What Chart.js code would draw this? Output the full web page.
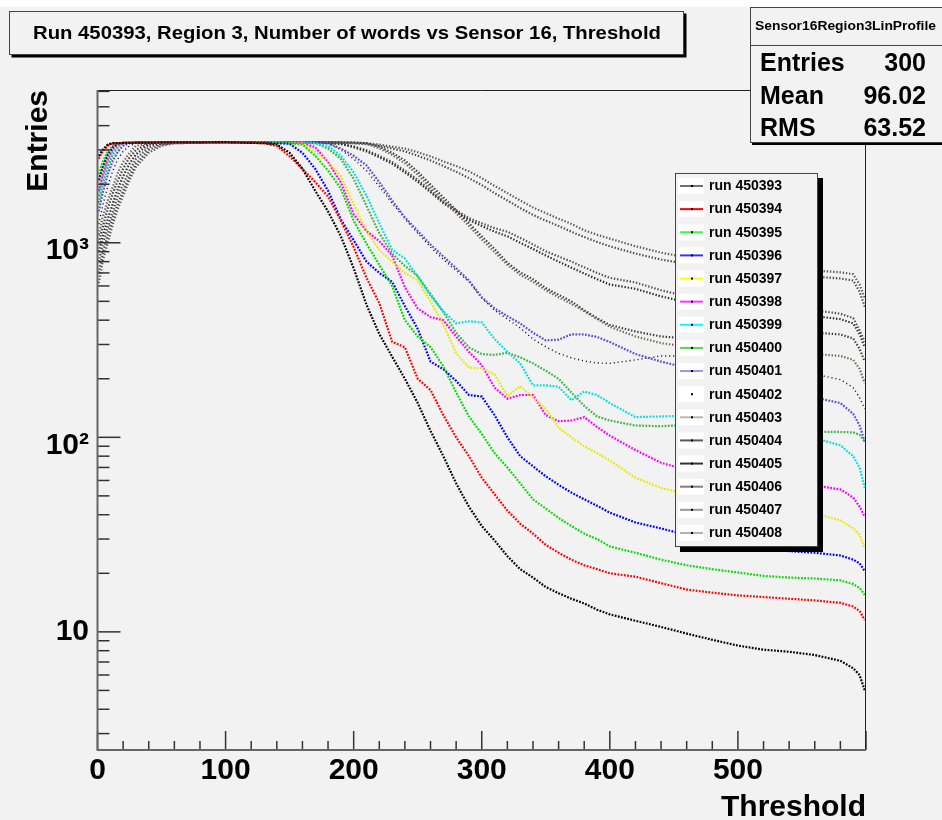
<!DOCTYPE html>
<html>
<head>
<meta charset="utf-8">
<script src="https://cdn.jsdelivr.net/npm/chart.js@4.4.1/dist/chart.umd.min.js"></script>
<style>
  html, body { margin: 0; padding: 0; background: #f2f2f2; }
  canvas { display: block; }
</style>
</head>
<body>
<canvas id="chart" width="942" height="820"></canvas>
<script>
// ---- data ----
const titleText = 'Run 450393, Region 3, Number of words vs Sensor 16, Threshold'
const xTitle = 'Threshold'
const yTitle = 'Entries'
const statsName = 'Sensor16Region3LinProfile'
const statsLabels = ['Entries', 'Mean', 'RMS']
const statsValues = ['300', '96.02', '63.52']

const xTicks = [0, 100, 200, 300, 400, 500]

const runNames = ['run 450393', 'run 450394', 'run 450395', 'run 450396', 'run 450397', 'run 450398',
  'run 450399', 'run 450400', 'run 450401', 'run 450402', 'run 450403', 'run 450404',
  'run 450405', 'run 450406', 'run 450407', 'run 450408']

const thresholds = [1, 4, 8, 12, 16, 20, 25, 30, 40, 50, 60, 100, 130, 140, 150, 160, 170, 180, 190, 200,
  210, 220, 230, 240, 250, 260, 270, 280, 290, 300, 310, 320, 330, 340, 350, 360, 370, 380, 390, 400,
  420, 440, 460, 480, 500, 520, 540, 560, 580, 590, 595, 599]

const run450393 = [2800, 3000, 3200, 3250, 3250, 3260, 3260, 3270, 3270, 3280, 3280, 3290, 3250, 3200, 2900, 2400, 1850, 1450, 1080, 740, 480, 340, 260, 200, 150, 108, 80, 58, 44, 35, 29.5, 24.5, 21, 19, 17, 15.8, 14.8, 14, 13, 12.3, 11.4, 10.6, 9.8, 9.1, 8.5, 8.1, 7.9, 7.6, 7.1, 6.5, 6.0, 5.0]
const run450394 = [2700, 2950, 3150, 3250, 3250, 3260, 3260, 3270, 3270, 3280, 3280, 3290, 3250, 3150, 2780, 2400, 2050, 1730, 1300, 950, 660, 490, 310, 290, 200, 175, 130, 100, 80, 62, 51, 42, 36, 32, 28, 25.5, 23.5, 22, 21, 20, 19.2, 17.8, 16.5, 15.9, 15.4, 15.1, 14.8, 14.5, 14.1, 13.5, 12.8, 11.5]
const run450395 = [2250, 2600, 2950, 3150, 3250, 3260, 3260, 3270, 3270, 3280, 3280, 3290, 3290, 3280, 3250, 3200, 2800, 2350, 1900, 1300, 990, 770, 600, 400, 330, 291, 232, 170, 128, 104, 83, 70, 58, 48, 43, 38.5, 35, 32, 30, 27.5, 25.5, 23.5, 22, 21, 20.2, 19.4, 19.0, 18.8, 18.4, 17.6, 16.8, 15.5]
const run450396 = [2100, 2450, 2850, 3100, 3250, 3260, 3260, 3270, 3270, 3280, 3280, 3290, 3280, 3250, 3230, 2900, 2400, 1850, 1320, 1030, 800, 700, 630, 473, 361, 245, 224, 195, 165, 162, 130, 100, 80, 71, 63, 57, 52, 48, 44.5, 41, 36.5, 34, 31.5, 29.5, 28, 26.8, 26, 25.5, 24.7, 23.5, 22.5, 20.5]
const run450397 = [2050, 2400, 2800, 3100, 3250, 3260, 3260, 3270, 3270, 3280, 3280, 3290, 3290, 3280, 3250, 3240, 2950, 2600, 2200, 1580, 1150, 920, 800, 700, 640, 500, 380, 270, 228, 226, 210, 163, 183, 160, 140, 112, 100, 90, 83, 76, 62, 55, 51, 48.5, 46.5, 44, 42, 40.5, 37.5, 34, 31.5, 27]
const run450398 = [1850, 2250, 2700, 3050, 3200, 3250, 3260, 3270, 3270, 3280, 3280, 3290, 3290, 3290, 3280, 3250, 3100, 2600, 2040, 1400, 1150, 1020, 860, 590, 460, 415, 400, 330, 275, 235, 180, 158, 165, 165, 130, 121, 122, 127, 113, 102, 86, 74, 68, 64, 61, 59, 57.5, 56.5, 54, 49, 44, 39]
const run450399 = [1750, 2150, 2600, 2950, 3150, 3250, 3260, 3270, 3270, 3280, 3280, 3290, 3290, 3290, 3290, 3280, 3250, 3150, 2800, 2300, 1750, 1260, 920, 830, 670, 533, 445, 385, 395, 390, 320, 275, 240, 185, 185, 182, 155, 172, 165, 150, 127, 128, 129, 123, 116, 110, 104, 99, 91, 80, 70, 55]
const run450400 = [1600, 2000, 2450, 2850, 3100, 3250, 3260, 3270, 3270, 3280, 3280, 3290, 3290, 3290, 3290, 3280, 3250, 3050, 2700, 2130, 1550, 1120, 880, 760, 676, 546, 440, 345, 290, 268, 265, 272, 258, 240, 220, 200, 170, 145, 128, 122, 115, 114, 116, 113, 110, 109, 108, 107, 106.5, 106, 103, 95]
const run450401 = [1450, 1800, 2250, 2650, 2950, 3150, 3250, 3270, 3270, 3280, 3280, 3290, 3290, 3290, 3290, 3290, 3280, 3250, 3050, 2800, 2500, 2050, 1650, 1350, 1150, 980, 850, 740, 640, 525, 460, 420, 385, 345, 315, 318, 338, 338, 328, 309, 268, 245, 228, 212, 198, 185, 172, 160, 150, 132, 115, 95]
const run450402 = [1250, 1550, 1950, 2350, 2700, 2950, 3150, 3250, 3270, 3280, 3280, 3290, 3290, 3290, 3290, 3290, 3280, 3250, 3000, 2700, 2350, 1950, 1600, 1330, 1120, 950, 820, 720, 630, 520, 450, 405, 365, 320, 292, 270, 256, 247, 241, 240, 250, 262, 262, 255, 245, 233, 222, 211, 198, 180, 160, 140]
const run450403 = [1100, 1350, 1650, 1950, 2300, 2600, 2900, 3150, 3250, 3270, 3280, 3290, 3290, 3290, 3290, 3290, 3290, 3290, 3280, 3260, 3220, 3060, 2830, 2560, 2240, 1920, 1650, 1420, 1220, 1040, 895, 770, 685, 630, 570, 525, 485, 445, 405, 370, 330, 305, 292, 285, 280, 276, 272, 268, 262, 250, 225, 190]
const run450404 = [1000, 1200, 1500, 1800, 2100, 2400, 2750, 3000, 3250, 3270, 3280, 3290, 3290, 3290, 3290, 3290, 3290, 3290, 3280, 3270, 3250, 3120, 2900, 2650, 2320, 1990, 1710, 1470, 1260, 1080, 930, 790, 705, 650, 585, 540, 500, 450, 410, 378, 350, 330, 322, 325, 330, 336, 342, 345, 338, 322, 285, 245]
const run450405 = [900, 1080, 1320, 1600, 1900, 2200, 2550, 2850, 3200, 3250, 3270, 3290, 3290, 3290, 3290, 3290, 3280, 3260, 3220, 3100, 2950, 2750, 2550, 2300, 2060, 1820, 1600, 1440, 1310, 1220, 1140, 1080, 1000, 930, 860, 800, 745, 695, 650, 610, 580, 530, 495, 470, 455, 442, 430, 420, 405, 385, 340, 290]
const run450406 = [800, 980, 1200, 1450, 1750, 2000, 2350, 2700, 3100, 3250, 3270, 3290, 3290, 3290, 3290, 3290, 3280, 3260, 3230, 3130, 2990, 2800, 2600, 2350, 2110, 1860, 1625, 1470, 1340, 1260, 1190, 1140, 1060, 980, 905, 850, 800, 748, 700, 660, 625, 570, 530, 505, 490, 475, 462, 450, 432, 410, 355, 310]
const run450407 = [700, 880, 1100, 1350, 1600, 1850, 2200, 2550, 3000, 3200, 3250, 3290, 3290, 3290, 3290, 3290, 3290, 3280, 3270, 3250, 3220, 3150, 3050, 2950, 2800, 2650, 2480, 2320, 2150, 1980, 1800, 1650, 1510, 1390, 1300, 1220, 1140, 1070, 1010, 960, 880, 820, 780, 745, 720, 700, 685, 670, 655, 640, 560, 470]
const run450408 = [620, 800, 1000, 1250, 1500, 1750, 2100, 2450, 2900, 3150, 3250, 3290, 3290, 3290, 3290, 3290, 3290, 3290, 3285, 3280, 3250, 3200, 3120, 3050, 2920, 2780, 2620, 2480, 2330, 2150, 1960, 1800, 1650, 1520, 1420, 1330, 1250, 1160, 1100, 1050, 960, 890, 840, 800, 775, 755, 735, 720, 705, 690, 610, 520]

const series = [run450393, run450394, run450395, run450396, run450397, run450398, run450399, run450400,
  run450401, run450402, run450403, run450404, run450405, run450406, run450407, run450408]

// ---- styles ----
const markerColors = ['#000000', '#ff0000', '#00dd00', '#0000ff', '#e8e800', '#ff00ff', '#00e0e0', '#3fb54a',
  '#5954d8', '#000000', '#6e6860', '#3c3c3c', '#2a2a2a', '#505050', '#4a4a4a', '#5a5a5a']
const legendColors = ['#707070', '#ff0000', '#33ff33', '#3333ff', '#ffff00', '#ff33ff', '#00ffff', '#59d454',
  '#9a98e8', '#ffffff', '#c0b6ac', '#5a5a5a', '#333333', '#7f7f7f', '#999999', '#b2b2b2']
const bg = '#f2f2f2'
const fontFamily = "'Liberation Sans', Arial, Helvetica, sans-serif"

Chart.defaults.font.family = fontFamily

function line(ctx, x1, y1, x2, y2) {
  ctx.beginPath()
  ctx.moveTo(x1, y1)
  ctx.lineTo(x2, y2)
  ctx.stroke()
}

function fitText(ctx, text, cx, cy, width, font) {
  ctx.font = font
  const w = ctx.measureText(text).width
  ctx.save()
  ctx.translate(cx, cy)
  ctx.scale(width / w, 1)
  ctx.textAlign = 'center'
  ctx.textBaseline = 'middle'
  ctx.fillText(text, 0, 0)
  ctx.restore()
}

function shadowBox(ctx, x, y, w, h, s) {
  ctx.fillStyle = '#000'
  ctx.fillRect(x + s, y + s, w, h)
  ctx.fillStyle = bg
  ctx.fillRect(x, y, w, h)
  ctx.strokeStyle = '#444'
  ctx.lineWidth = 1
  ctx.strokeRect(x + 0.5, y + 0.5, w - 1, h - 1)
}

const rootStyle = {
  id: 'rootStyle',
  beforeDraw(chart) {
    const ctx = chart.ctx
    ctx.save()
    ctx.fillStyle = bg
    ctx.fillRect(0, 0, chart.width, chart.height)
    ctx.fillStyle = '#ffffff'
    ctx.fillRect(0, 0, chart.width, 7)
    ctx.restore()
  },
  afterDatasetsDraw(chart) {
    const ctx = chart.ctx
    const a = chart.chartArea
    const xs = chart.scales.x
    const ys = chart.scales.y
    ctx.save()
    // inward ticks, ROOT style
    ctx.strokeStyle = '#333'
    ctx.lineWidth = 1.5
    for (let v = 0; v <= 600; v += 20) {
      const px = xs.getPixelForValue(v)
      line(ctx, px, a.bottom, px, a.bottom - (v % 100 === 0 ? 19 : 9))
    }
    for (const d of [1, 10, 100, 1000]) {
      for (let m = 1; m <= 9; m++) {
        const v = m * d
        if (v < ys.min || v > ys.max) continue
        const py = ys.getPixelForValue(v)
        line(ctx, a.left, py, a.left + (m === 1 ? 23 : 12), py)
      }
    }
    // frame
    ctx.strokeStyle = '#222'
    ctx.lineWidth = 1
    line(ctx, a.left, a.top + 0.5, a.right, a.top + 0.5)
    line(ctx, a.right - 0.5, a.top, a.right - 0.5, a.bottom)
    ctx.strokeStyle = '#666'
    ctx.lineWidth = 2
    line(ctx, a.left, a.top, a.left, a.bottom + 1)
    line(ctx, a.left, a.bottom, a.right, a.bottom)
    ctx.restore()
  },
  afterDraw(chart) {
    const ctx = chart.ctx
    ctx.save()
    ctx.fillStyle = '#000'

    // title box
    shadowBox(ctx, 9, 11, 675, 44, 2.5)
    ctx.fillStyle = '#000'
    fitText(ctx, titleText, 347, 33.5, 628, 'bold 19px ' + fontFamily)

    // stats box
    shadowBox(ctx, 750, 7, 200, 136, 2)
    ctx.strokeStyle = '#444'
    ctx.lineWidth = 1
    line(ctx, 750, 45.5, 942, 45.5)
    ctx.fillStyle = '#000'
    fitText(ctx, statsName, 845.5, 27, 181, 'bold 12px ' + fontFamily)
    ctx.font = 'bold 25px ' + fontFamily
    ctx.textBaseline = 'middle'
    statsLabels.forEach((lab, i) => {
      const y = 64.5 + i * 32.5
      ctx.textAlign = 'left'
      ctx.fillText(lab, 760, y)
      ctx.textAlign = 'right'
      ctx.fillText(statsValues[i], 926, y)
    })

    // legend
    shadowBox(ctx, 675, 173, 143, 374, 5)
    ctx.font = 'bold 14px ' + fontFamily
    ctx.textAlign = 'left'
    ctx.textBaseline = 'middle'
    chart.data.datasets.forEach((ds, i) => {
      const cy = 186 + i * 23.13
      ctx.fillStyle = '#ffffff'
      ctx.fillRect(678, cy - 8, 26, 16)
      ctx.strokeStyle = legendColors[i]
      ctx.lineWidth = 2
      line(ctx, 680, cy, 703, cy)
      ctx.fillStyle = '#000'
      ctx.fillRect(691, cy - 1, 2, 2)
      ctx.fillText(ds.label, 709, cy + 0.5)
    })
    ctx.restore()
  }
}

const datasets = runNames.map((name, i) => ({
  label: name,
  data: thresholds.map((x, j) => ({ x: x, y: series[i][j] })),
  borderColor: markerColors[i],
  borderWidth: i === 9 ? 1.4 : 2.2,
  borderDash: i === 9 ? [1, 3] : (i >= 10 ? [1.4, 1.8] : [1.8, 1.4]),
  pointRadius: 0,
  fill: false,
  tension: 0
}))

new Chart(document.getElementById('chart'), {
  type: 'line',
  data: { datasets: datasets },
  options: {
    responsive: false,
    animation: false,
    devicePixelRatio: 1,
    events: [],
    layout: { padding: { left: 0, top: 90, right: 76, bottom: 0 } },
    plugins: {
      legend: { display: false },
      tooltip: { enabled: false },
      title: { display: false }
    },
    scales: {
      x: {
        type: 'linear',
        min: 0,
        max: 600,
        grid: { display: false, drawTicks: false },
        border: { display: false },
        ticks: {
          stepSize: 100,
          autoSkip: false,
          maxRotation: 0,
          padding: 2.5,
          color: '#000',
          font: { size: 30, weight: 'bold', lineHeight: 1.2 },
          callback: v => xTicks.includes(v) ? String(v) : null
        },
        title: {
          display: true,
          text: xTitle,
          align: 'end',
          color: '#000',
          font: { size: 30, weight: 'bold', lineHeight: 0.8 },
          padding: { top: 0.5, bottom: 0 }
        },
        afterFit: s => { s.height = 70 }
      },
      y: {
        type: 'logarithmic',
        min: 2.47,
        max: 6100,
        grid: { display: false, drawTicks: false },
        border: { display: false },
        ticks: {
          autoSkip: false,
          padding: 8.5,
          color: '#000',
          font: { size: 30, weight: 'bold', lineHeight: '16px' },
          callback: v => {
            const e = Math.log10(v)
            if (Math.abs(e - Math.round(e)) > 1e-9) return null
            const n = Math.round(e)
            if (n === 1) return '10'
            if (n === 2) return ['', '10\u00b2']
            if (n === 3) return ['', '10\u00b3']
            return null
          }
        },
        title: {
          display: true,
          text: yTitle,
          align: 'end',
          color: '#000',
          font: { size: 30, weight: 'bold', lineHeight: 1.2 },
          padding: { top: 20.7, bottom: 0 }
        },
        afterFit: s => { s.width = 97.5 }
      }
    }
  },
  plugins: [rootStyle]
})
</script>
</body>
</html>
